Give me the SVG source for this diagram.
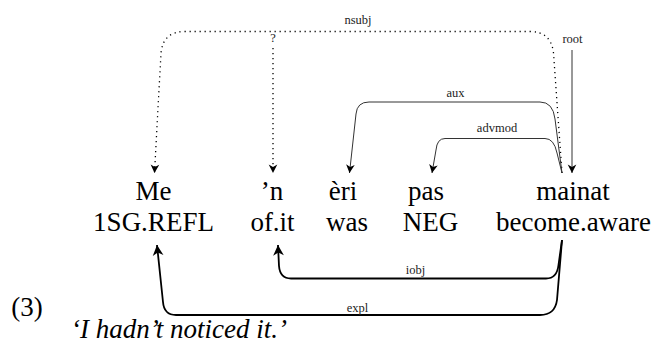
<svg xmlns="http://www.w3.org/2000/svg" width="655" height="347" viewBox="0 0 655 347">
<style>
text{font-family:'Liberation Serif','Tinos','Nimbus Roman','Times New Roman','DejaVu Serif',serif}
.w{font-size:27px;fill:#000;text-anchor:middle}
.l{font-size:12.5px;fill:#222;text-anchor:middle}
.it{font-size:27px;font-style:italic;fill:#000}
.top{fill:none;stroke:#333;stroke-width:1}
.dot{fill:none;stroke:#000;stroke-width:1.3;stroke-dasharray:1.2 3.8}
.bot{fill:none;stroke:#000;stroke-width:1.8}
</style>
<defs>
<marker id="ah" markerUnits="userSpaceOnUse" markerWidth="12" markerHeight="12" refX="0" refY="0" viewBox="-8 -5 10 10" orient="auto" overflow="visible">
<path d="M0,0 L-7,-3.6 L-5,0 L-7,3.6 Z" fill="#000"/>
</marker>
<marker id="bh" markerUnits="userSpaceOnUse" markerWidth="14" markerHeight="14" refX="0" refY="0" viewBox="-10 -6 12 12" orient="auto" overflow="visible">
<path d="M0,0 L-9,-4.6 L-6.5,0 L-9,4.6 Z" fill="#000"/>
</marker>
</defs>
<g id="w1"><text class="w" x="153.5" y="200">Me</text><text class="w" x="153.5" y="231">1SG.REFL</text></g>
<g id="w2"><text class="w" x="272" y="200">’n</text><text class="w" x="272.5" y="231">of.it</text></g>
<g id="w3"><text class="w" x="343" y="200">èri</text><text class="w" x="347" y="231">was</text></g>
<g id="w4"><text class="w" x="426" y="200">pas</text><text class="w" x="430.5" y="231">NEG</text></g>
<g id="w5"><text class="w" x="573" y="200">mainat</text><text class="w" x="573.5" y="231">become.aware</text></g>
<g id="edges">
<path class="dot" d="M562,173 L553.5,53 Q551,31.5 530,31.5 L185,31.5 Q163,31.5 161,53 L154.5,173" marker-end="url(#ah)"/>
<path class="dot" d="M273,48 L273,173" marker-end="url(#ah)"/>
<path class="top" d="M562,173 L555,119 Q553,102 540,102 L369,102 Q357,102 356,114 L349.5,173" marker-end="url(#ah)"/>
<path class="top" d="M562,173 L557,153 Q554,138.5 545,138.5 L445,138.5 Q437,138.5 436,150 L432,173" marker-end="url(#ah)"/>
<path class="top" d="M572,50 L572,173" marker-end="url(#ah)"/>
<path class="bot" d="M562,240 L558.5,265 Q557,278.5 546,278.5 L291,278.5 Q280,278.5 279,266 L278,245" marker-end="url(#bh)"/>
<path class="bot" d="M562,240 L557,300 Q555,315 540,315 L176,315 Q164,315 163,302 L157,245" marker-end="url(#bh)"/>
<text class="l" x="358" y="24">nsubj</text>
<text class="l" x="273" y="42">?</text>
<text class="l" x="572.5" y="43">root</text>
<text class="l" x="455.5" y="96.5">aux</text>
<text class="l" x="497" y="131.5">advmod</text>
<text class="l" x="415.5" y="274">iobj</text>
<text class="l" x="357.5" y="311.5">expl</text>
</g>
<text class="w" x="27" y="316">(3)</text>
<text class="it" x="71" y="338">‘I hadn’t noticed it.’</text>
</svg>
